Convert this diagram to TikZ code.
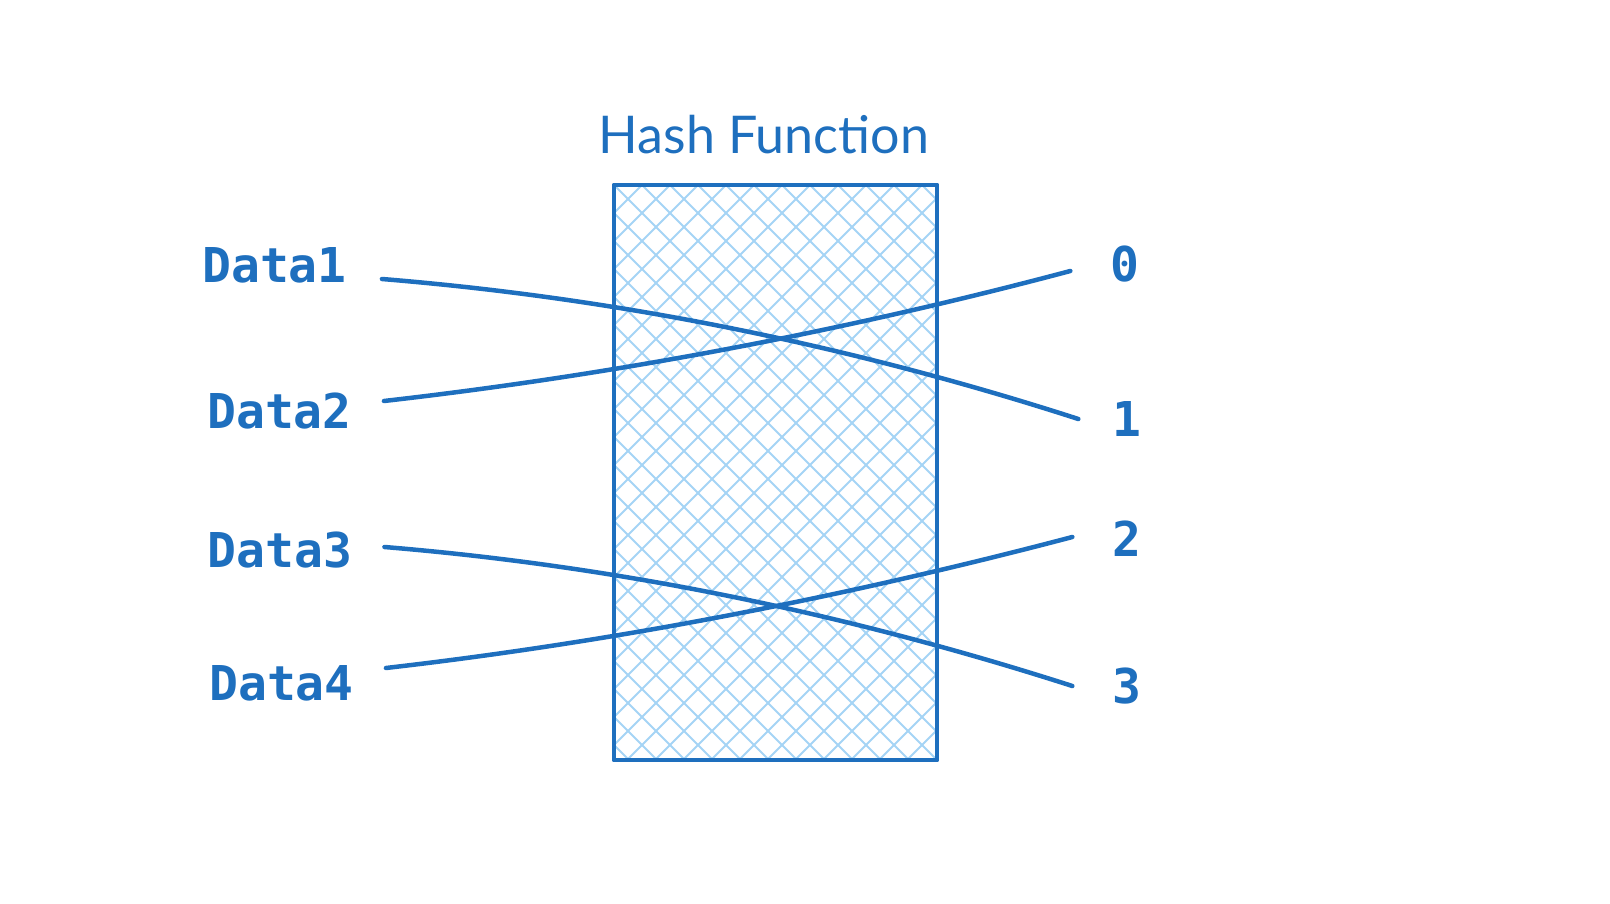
\documentclass[tikz,border=0pt]{standalone}
\usepackage{fontspec}
\newfontfamily\dmono{DejaVu Sans Mono}
\newfontfamily\titlefont{Lato}
\definecolor{hashblue}{RGB}{30,111,190}
\definecolor{hatchblue}{RGB}{165,212,245}
\tikzset{
  datalabel/.style={font=\dmono\bfseries\fontsize{48}{56}\selectfont, text=hashblue, inner xsep=32pt},
  numlabel/.style={font=\dmono\bfseries\fontsize{48}{56}\selectfont, text=hashblue, inner xsep=40pt},
  hatch/.style={hatchblue, line width=2pt},
  link/.style={hashblue, line width=4.5pt, line cap=round}
}
\begin{document}
\begin{tikzpicture}
            [x=1pt, y=-1pt]
            \useasboundingbox (0,0) rectangle (1610,904);

            \node[font=\titlefont\fontsize{52}{62}\selectfont, text=hashblue] (title) at (764,135) {Hash Function};

            \node[minimum width=323pt, minimum height=575pt, inner sep=0] (hash) at (775.5,472.5) {};
            \begin{scope}
              \clip (hash.north west) rectangle (hash.south east);
              \foreach \k in {-21,...,32} {
                \draw[hatch] (614+\k*28,185) -- ++(575,575);
                \draw[hatch] (614+\k*28,185) -- ++(-575,575);
              }
            \end{scope}
            \draw[hashblue, line width=4.5pt, line join=round] (hash.north west) rectangle (hash.south east);

            \node[datalabel, inner xsep=35pt] (d1) at (274.5,265) {Data1};
            \node[datalabel] (d2) at (279.5,411) {Data2};
            \node[datalabel] (d3) at (280,550) {Data3};
            \node[datalabel] (d4) at (281.5,683) {Data4};

            \node[numlabel] (o0) at (1125,264) {0};
            \node[numlabel, inner xsep=34pt] (o1) at (1127,419) {1};
            \node[numlabel] (o2) at (1127,539) {2};
            \node[numlabel] (o3) at (1127,686) {3};

            \draw[link] ([yshift=-14pt]d1.east) .. controls (614,298) and (846,344) .. (o1.west);
            \draw[link] ([yshift=10pt]d2.east) .. controls (612,375) and (841,332) .. ([yshift=-7pt]o0.west);
            \draw[link] ([yshift=3pt]d3.east) .. controls (614,566) and (842,612) .. (o3.west);
            \draw[link] ([yshift=15pt]d4.east) .. controls (612,642) and (841,598) .. ([yshift=2pt]o2.west);
          \end{tikzpicture}
\end{document}
